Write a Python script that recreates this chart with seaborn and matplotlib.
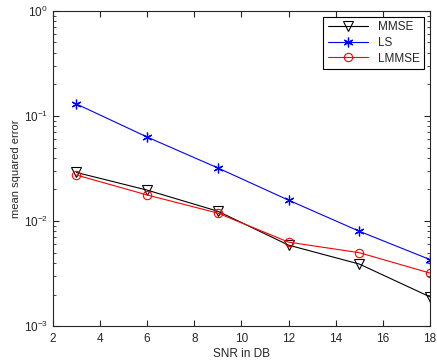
import numpy as np
import pandas as pd
import matplotlib
matplotlib.use("Agg")
import matplotlib.pyplot as plt
import seaborn as sns

# values
snr = [3, 6, 9, 12, 15, 18]
mmse = [0.029, 0.0197, 0.0124, 0.0059, 0.0039, 0.0019]
ls = [0.130, 0.063, 0.032, 0.0158, 0.0080, 0.0043]
lmmse = [0.0274, 0.0177, 0.0119, 0.0063, 0.0050, 0.0032]

sns.set_style("ticks")
plt.rcParams['font.family'] = ['Liberation Sans', 'DejaVu Sans']

fig = plt.figure(figsize=(4.37, 3.62), dpi=100)
ax = fig.add_axes([0.121, 0.099, 0.863, 0.871])

sns.lineplot(x=snr, y=mmse, ax=ax, color='black', lw=0.8, marker='v',
             markersize=6.5, markerfacecolor='none', markeredgecolor='black',
             markeredgewidth=0.8, label='MMSE')
sns.lineplot(x=snr, y=ls, ax=ax, color='blue', lw=0.8, marker=(6, 2, 0),
             markersize=7, markeredgecolor='blue', markeredgewidth=0.9,
             label='LS')
sns.lineplot(x=snr, y=lmmse, ax=ax, color='red', lw=0.8, marker='o',
             markersize=6, markerfacecolor='none', markeredgecolor='red',
             markeredgewidth=0.8, label='LMMSE')

ax.set_yscale('log')
ax.set_xlim(2, 18)
ax.set_ylim(1e-3, 1)
ax.set_xticks(range(2, 19, 2))
ax.tick_params(axis='both', which='both', direction='in', top=True, right=True,
               labelsize=8.5)
ax.tick_params(axis='x', pad=5)
ax.tick_params(which='major', length=4)
ax.tick_params(which='minor', length=2)
for s in ax.spines.values():
    s.set_linewidth(0.8)

ax.set_xlabel('SNR in DB', fontsize=8.5, labelpad=2)
ax.set_ylabel('mean squared error', fontsize=8, labelpad=2)

leg = ax.legend(loc='upper right', fontsize=8.5, frameon=True, fancybox=False,
                edgecolor='black', handlelength=3.4, borderpad=0.4,
                labelspacing=0.3, framealpha=1)
leg.get_frame().set_linewidth(0.8)

fig.savefig('out.png', dpi=100)
